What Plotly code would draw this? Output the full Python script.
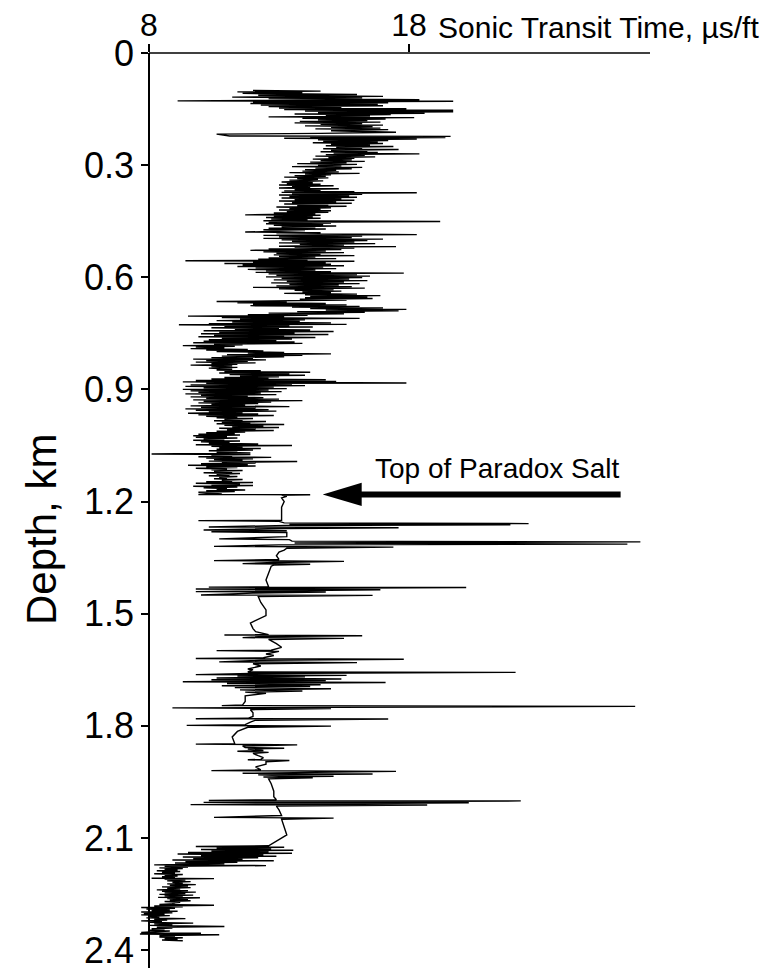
import plotly.graph_objects as go

# ---------------- data (depth in km, sonic transit time in us/ft) ----------------
depth_a = [0.100, 0.102, 0.104, 0.106, 0.108, 0.111, 0.113, 0.116, 0.118, 0.120, 0.122, 0.125, 0.128, 0.129,
           0.131, 0.133, 0.135, 0.137, 0.139, 0.141, 0.143, 0.145, 0.147, 0.149, 0.151, 0.153, 0.155, 0.157,
           0.159, 0.161, 0.163, 0.165, 0.167, 0.169, 0.171, 0.173, 0.175, 0.177, 0.179, 0.181, 0.183, 0.185,
           0.187, 0.189, 0.191, 0.193, 0.195, 0.197, 0.199, 0.201, 0.203, 0.205, 0.208, 0.212, 0.215, 0.217,
           0.222, 0.223, 0.225, 0.226, 0.228, 0.230]
dtt_a = [12.0, 14.6, 11.4, 13.9, 11.6, 16.0, 12.2, 17.0, 11.2, 16.2, 12.6, 18.4, 9.1, 19.7,
         12.0, 17.2, 11.9, 16.8, 12.3, 17.0, 12.6, 15.4, 13.0, 17.9, 13.2, 19.7, 14.0, 19.7,
         14.5, 18.6, 13.6, 17.3, 14.8, 16.5, 12.6, 18.2, 13.9, 17.1, 14.5, 16.4, 13.8, 16.9,
         13.6, 16.2, 14.6, 17.0, 14.0, 16.6, 15.0, 16.9, 14.4, 17.2, 15.0, 17.5, 14.6, 10.6,
         11.1, 19.6, 14.2, 19.4, 13.2, 18.3]

depth_b = [0.232, 0.234, 0.236, 0.238, 0.240, 0.242, 0.244, 0.246, 0.248, 0.250, 0.252, 0.254, 0.256, 0.258,
           0.260, 0.262, 0.264, 0.266, 0.268, 0.270, 0.272, 0.274, 0.276, 0.278, 0.280, 0.282, 0.284, 0.286,
           0.288, 0.290, 0.292, 0.294, 0.296, 0.298, 0.300, 0.302, 0.304, 0.306, 0.308, 0.310, 0.312, 0.314,
           0.316, 0.318, 0.320, 0.322, 0.324, 0.326, 0.328, 0.330, 0.332, 0.334, 0.336, 0.338, 0.340, 0.342,
           0.345, 0.347, 0.349, 0.351, 0.353, 0.355, 0.357, 0.359, 0.361, 0.363, 0.365, 0.367, 0.369, 0.371,
           0.373, 0.374, 0.376, 0.378, 0.380, 0.382, 0.384, 0.386, 0.388, 0.390, 0.392, 0.394, 0.396, 0.398,
           0.400, 0.402, 0.404, 0.406, 0.408, 0.410, 0.412, 0.414, 0.416, 0.418, 0.420]
dtt_b = [14.5, 17.2, 14.7, 16.8, 14.3, 17.0, 15.0, 16.5, 14.8, 17.4, 15.2, 16.2, 14.7, 17.6,
         15.0, 16.4, 14.6, 16.8, 15.1, 18.4, 14.8, 16.3, 14.4, 16.7, 14.9, 15.9, 14.3, 15.8,
         14.6, 16.3, 14.2, 15.6, 13.7, 16.0, 14.5, 15.4, 13.5, 16.2, 14.4, 15.8, 14.0, 15.2,
         13.9, 15.3, 13.4, 16.1, 14.0, 15.0, 13.6, 14.8, 13.2, 14.9, 13.7, 14.5, 13.4, 14.7,
         13.1, 14.3, 13.3, 14.6, 13.0, 15.1, 13.5, 14.2, 13.0, 15.3, 13.6, 14.6, 13.2, 15.9,
         13.1, 18.3, 13.5, 16.2, 13.0, 15.7, 13.4, 16.0, 13.1, 15.4, 13.6, 15.9, 13.0, 15.2,
         13.5, 15.8, 13.2, 14.9, 13.7, 15.6, 12.9, 15.0, 13.4, 14.6, 13.0]

depth_c = [0.422, 0.424, 0.426, 0.428, 0.430, 0.433, 0.434, 0.436, 0.438, 0.440, 0.442, 0.444, 0.446, 0.449,
           0.451, 0.453, 0.455, 0.457, 0.459, 0.461, 0.463, 0.465, 0.467, 0.469, 0.471, 0.473, 0.475, 0.477,
           0.479, 0.481, 0.483, 0.486, 0.488, 0.490, 0.492, 0.494, 0.496, 0.498, 0.500, 0.502, 0.504, 0.506,
           0.508, 0.510, 0.512, 0.514, 0.517, 0.518, 0.520, 0.522, 0.524, 0.526, 0.528, 0.530, 0.532, 0.534,
           0.536, 0.538, 0.540, 0.542, 0.544, 0.546, 0.548, 0.550, 0.552, 0.554, 0.556, 0.557, 0.559, 0.561,
           0.563, 0.565, 0.567, 0.569, 0.571, 0.573, 0.575, 0.577, 0.579, 0.581, 0.583, 0.585, 0.587, 0.589,
           0.591, 0.593, 0.595, 0.597, 0.599, 0.601, 0.603, 0.605, 0.607, 0.609, 0.611, 0.613, 0.615, 0.617,
           0.619, 0.621, 0.623, 0.625, 0.627, 0.629, 0.631, 0.633, 0.635, 0.637, 0.639, 0.641, 0.643, 0.645,
           0.647, 0.649, 0.651, 0.653, 0.655, 0.657, 0.659, 0.661, 0.663, 0.665, 0.666, 0.668, 0.670, 0.672,
           0.674, 0.676, 0.678, 0.680, 0.682, 0.684, 0.686, 0.688, 0.690, 0.692, 0.694, 0.696, 0.698, 0.700]
dtt_c = [15.0, 13.3, 14.9, 12.8, 14.4, 11.7, 14.6, 12.8, 14.3, 12.5, 14.6, 12.7, 14.1, 12.4,
         19.2, 12.6, 15.0, 12.5, 14.7, 12.8, 15.2, 13.1, 14.4, 12.6, 14.8, 12.4, 14.0, 13.0,
         11.7, 14.6, 12.9, 18.3, 12.4, 16.2, 13.0, 15.8, 12.4, 17.0, 13.1, 16.4, 13.5, 15.9,
         13.0, 16.7, 13.8, 15.5, 13.0, 17.5, 13.6, 15.9, 12.6, 15.4, 11.9, 14.8, 12.4, 15.5,
         12.9, 14.6, 12.8, 15.9, 13.0, 14.4, 12.6, 15.2, 12.2, 14.1, 9.4, 15.9, 12.0, 14.8,
         10.9, 15.0, 11.6, 15.5, 11.4, 14.7, 12.1, 15.2, 11.8, 14.4, 12.5, 15.0, 12.1, 17.8,
         12.6, 16.0, 12.9, 16.5, 12.5, 16.2, 13.1, 15.7, 12.8, 16.4, 13.3, 15.5, 12.7, 16.1,
         13.4, 15.3, 12.9, 15.8, 12.0, 16.3, 13.0, 15.1, 13.6, 15.4, 13.9, 15.0, 13.2, 16.0,
         14.0, 16.9, 14.2, 16.4, 14.0, 16.6, 13.8, 15.6, 12.5, 10.6, 13.3, 11.4, 14.8, 12.0,
         15.6, 11.9, 16.1, 13.5, 17.0, 14.2, 17.9, 14.8, 17.6, 13.7, 16.3, 12.6, 15.5, 11.8]

depth_d = [0.702, 0.704, 0.706, 0.708, 0.710, 0.712, 0.714, 0.716, 0.718, 0.720, 0.722, 0.724, 0.726, 0.727,
           0.729, 0.731, 0.733, 0.735, 0.737, 0.739, 0.741, 0.743, 0.745, 0.747, 0.749, 0.751, 0.753, 0.755,
           0.757, 0.759, 0.761, 0.763, 0.765, 0.767, 0.769, 0.771, 0.773, 0.775, 0.777, 0.779, 0.781, 0.783,
           0.785, 0.787, 0.789, 0.791, 0.793, 0.795, 0.797, 0.799, 0.801, 0.803, 0.805, 0.807, 0.809, 0.811,
           0.813, 0.815, 0.817, 0.819, 0.821, 0.823, 0.825, 0.827, 0.829, 0.831, 0.833, 0.835, 0.837, 0.839,
           0.841, 0.843, 0.846, 0.848, 0.850, 0.852, 0.854, 0.856, 0.858, 0.860, 0.862, 0.864, 0.866, 0.868,
           0.870, 0.872, 0.874, 0.876, 0.879, 0.880, 0.883, 0.884, 0.886, 0.888, 0.890, 0.892, 0.894, 0.896,
           0.898, 0.900]
dtt_d = [14.1, 9.5, 13.2, 10.8, 16.1, 11.5, 14.0, 10.6, 13.8, 11.2, 15.0, 10.3, 15.6, 9.15,
         13.4, 10.9, 14.3, 10.4, 13.0, 11.3, 14.2, 10.1, 15.1, 10.7, 13.6, 10.0, 14.9, 10.5,
         13.2, 9.9, 14.4, 10.8, 13.5, 10.3, 12.9, 10.1, 13.6, 9.7, 13.9, 10.5, 11.6, 9.3,
         11.3, 9.8, 10.9, 9.6, 11.8, 10.2, 12.4, 10.6, 13.2, 11.8, 15.0, 11.0, 13.9, 10.8,
         13.2, 10.4, 12.0, 9.7, 12.5, 10.2, 11.8, 9.8, 12.1, 10.4, 11.4, 9.6, 11.2, 10.4,
         11.4, 10.3, 11.2, 10.6, 12.3, 10.9, 14.2, 10.7, 13.4, 11.1, 14.0, 11.5, 13.0, 10.9,
         12.6, 10.4, 14.8, 9.8, 15.2, 9.3, 17.9, 10.2, 13.5, 9.6, 14.0, 9.4, 12.8, 10.1,
         13.3, 9.3]

depth_e = [0.902, 0.904, 0.906, 0.908, 0.910, 0.912, 0.914, 0.916, 0.918, 0.920, 0.922, 0.924, 0.926, 0.928,
           0.930, 0.932, 0.934, 0.936, 0.938, 0.940, 0.942, 0.944, 0.946, 0.948, 0.950, 0.952, 0.954, 0.956,
           0.958, 0.960, 0.962, 0.964, 0.966, 0.968, 0.970, 0.972, 0.974, 0.976, 0.978, 0.980, 0.982, 0.984,
           0.986, 0.988, 0.990, 0.992, 0.994, 0.996, 0.998, 1.000, 1.002, 1.004, 1.006, 1.008, 1.010, 1.012,
           1.014, 1.016, 1.018, 1.020, 1.022, 1.024, 1.026, 1.028, 1.030, 1.032, 1.034, 1.036, 1.038, 1.040,
           1.042, 1.044, 1.046, 1.048, 1.050, 1.052, 1.054, 1.056, 1.058, 1.060, 1.062, 1.064, 1.066, 1.068,
           1.070, 1.073, 1.074, 1.076, 1.078, 1.080, 1.082, 1.084, 1.086, 1.088, 1.090, 1.092, 1.093, 1.095,
           1.097, 1.099, 1.101, 1.103, 1.105, 1.107, 1.109, 1.111, 1.113, 1.115, 1.117, 1.119, 1.121, 1.123,
           1.125, 1.127, 1.129, 1.131, 1.133, 1.135, 1.137, 1.139, 1.141, 1.143, 1.145, 1.147, 1.149, 1.151,
           1.153, 1.155, 1.157, 1.159, 1.161, 1.163, 1.165, 1.167, 1.169, 1.171, 1.173, 1.175, 1.177, 1.179,
           1.181, 1.182]
dtt_e = [12.6, 9.6, 13.1, 9.9, 12.3, 9.4, 12.9, 10.0, 11.8, 9.6, 12.4, 10.2, 13.0, 9.7,
         13.9, 10.1, 12.7, 9.9, 12.2, 10.4, 11.7, 9.6, 13.4, 10.0, 12.1, 9.4, 12.6, 9.8,
         12.9, 10.3, 11.6, 9.5, 12.2, 9.9, 12.8, 10.2, 11.4, 10.6, 12.0, 10.9, 11.6, 10.5,
         12.5, 10.8, 11.9, 10.6, 13.2, 10.9, 12.4, 11.2, 13.0, 10.7, 12.1, 11.0, 12.8, 10.6,
         11.7, 10.2, 11.3, 9.9, 11.5, 9.7, 11.0, 9.8, 11.4, 10.1, 10.9, 9.7, 11.5, 10.0,
         11.1, 10.3, 12.2, 9.8, 13.5, 10.4, 11.6, 10.7, 12.3, 10.6, 12.0, 10.3, 11.4, 10.6,
         11.9, 8.1, 11.9, 10.4, 11.2, 9.9, 12.7, 10.2, 12.0, 10.5, 11.6, 10.3, 13.7, 10.8,
         12.1, 10.0, 11.8, 9.5, 12.1, 10.2, 11.4, 9.8, 11.0, 10.4, 11.6, 10.5, 11.2, 10.1,
         11.5, 10.6, 11.1, 10.3, 11.4, 10.7, 11.0, 10.5, 11.6, 10.8, 11.2, 10.2, 12.0, 9.8,
         11.5, 10.4, 12.0, 9.7, 11.4, 10.1, 11.0, 10.6, 11.7, 10.2, 11.3, 9.9, 10.8, 10.3,
         9.9, 14.2]

depth_salt = [1.183, 1.186, 1.190, 1.200, 1.215, 1.235, 1.250, 1.251, 1.253, 1.257, 1.259, 1.261, 1.262, 1.264,
              1.268, 1.270, 1.272, 1.276, 1.278, 1.281, 1.283, 1.292, 1.294, 1.300, 1.302, 1.306, 1.308, 1.311,
              1.314, 1.316, 1.320, 1.322, 1.325, 1.330, 1.335, 1.345, 1.355, 1.358, 1.360, 1.363, 1.366, 1.368,
              1.370, 1.373, 1.390, 1.410, 1.428, 1.429, 1.430, 1.432, 1.434, 1.436, 1.438, 1.441, 1.442, 1.445,
              1.450, 1.451, 1.454, 1.470, 1.490, 1.505, 1.525, 1.540, 1.548, 1.556, 1.557, 1.559, 1.561, 1.564,
              1.566, 1.569, 1.580, 1.590, 1.598, 1.599, 1.601, 1.608, 1.612, 1.618, 1.620, 1.622, 1.625, 1.629,
              1.631, 1.634, 1.640, 1.648, 1.650, 1.656, 1.657, 1.660, 1.663, 1.665, 1.667, 1.669, 1.672, 1.675,
              1.677, 1.679, 1.682, 1.684, 1.687, 1.690, 1.693, 1.695, 1.698, 1.701, 1.704, 1.707, 1.710, 1.713,
              1.720, 1.735, 1.744, 1.746, 1.748, 1.750, 1.752, 1.754, 1.757, 1.765, 1.775, 1.780, 1.781, 1.782,
              1.785, 1.790, 1.797, 1.799, 1.801, 1.804, 1.815, 1.830, 1.848, 1.849, 1.851, 1.854, 1.858, 1.860,
              1.862, 1.866, 1.868, 1.871, 1.874, 1.880, 1.885, 1.890, 1.891, 1.893, 1.896, 1.903, 1.910, 1.918,
              1.920, 1.922, 1.925, 1.927, 1.929, 1.931, 1.933, 1.935, 1.937, 1.939, 1.942, 1.955, 1.975, 1.990,
              1.998, 2.000, 2.001, 2.003, 2.005, 2.006, 2.009, 2.011, 2.012, 2.015, 2.025, 2.040, 2.045, 2.047,
              2.050, 2.070, 2.092, 2.121]
dtt_salt = [13.1, 13.3, 13.1, 13.2, 13.1, 13.1, 13.1, 9.9, 13.0, 13.2, 22.6, 13.4, 21.9, 13.3,
            10.3, 17.6, 13.2, 10.1, 13.3, 10.4, 13.3, 13.3, 13.3, 10.7, 13.4, 13.5, 26.9, 13.6,
            26.4, 13.0, 10.5, 17.4, 13.3, 13.2, 13.0, 12.9, 13.0, 10.5, 15.5, 12.8, 11.6, 14.2,
            12.8, 12.7, 12.6, 12.5, 12.6, 10.3, 20.2, 12.6, 9.8, 16.9, 12.3, 9.8, 14.8, 12.0,
            10.0, 16.6, 12.2, 12.3, 12.5, 12.5, 11.9, 12.0, 12.1, 12.6, 10.9, 16.2, 12.4, 11.6,
            15.5, 12.6, 12.9, 13.1, 12.7, 10.6, 13.0, 12.5, 12.8, 12.4, 9.8, 17.8, 12.3, 10.7,
            16.0, 12.0, 12.3, 11.8, 12.0, 11.8, 22.1, 11.9, 9.8, 15.6, 11.4, 14.0, 10.6, 15.4,
            10.4, 14.8, 9.3, 17.1, 11.0, 14.6, 10.8, 14.2, 11.3, 15.0, 11.5, 13.9, 11.7, 12.5,
            11.7, 11.7, 11.6, 10.8, 26.7, 11.9, 8.9, 15.0, 11.9, 12.0, 12.0, 11.8, 9.8, 17.2,
            12.1, 11.9, 11.7, 9.45, 15.0, 11.8, 11.4, 11.2, 11.3, 9.8, 13.7, 11.6, 11.7, 13.2,
            11.8, 12.4, 11.4, 12.6, 12.0, 12.2, 12.4, 12.3, 11.8, 13.4, 12.5, 12.5, 12.1, 12.3,
            10.4, 17.5, 12.5, 11.6, 16.6, 12.2, 13.0, 15.1, 12.4, 14.3, 12.6, 12.7, 12.8, 12.8,
            12.9, 10.3, 22.3, 12.9, 10.1, 20.3, 12.8, 9.6, 18.7, 12.9, 13.0, 13.1, 10.5, 15.1,
            13.1, 13.2, 13.3, 12.6]

depth_f = [2.123, 2.125, 2.127, 2.129, 2.131, 2.133, 2.135, 2.137, 2.139, 2.141, 2.143, 2.145, 2.147, 2.149,
           2.151, 2.153, 2.155, 2.157, 2.159, 2.161, 2.163, 2.165, 2.167, 2.169, 2.172, 2.174, 2.176, 2.178,
           2.180, 2.182, 2.184, 2.186, 2.188, 2.190, 2.192, 2.194, 2.196, 2.198, 2.200, 2.202, 2.204, 2.206,
           2.208, 2.209, 2.211, 2.213, 2.215, 2.217, 2.219, 2.221, 2.223, 2.225, 2.227, 2.229, 2.231, 2.233,
           2.235, 2.237, 2.239, 2.241, 2.243, 2.245, 2.247, 2.249, 2.251, 2.253, 2.255, 2.257, 2.259, 2.260,
           2.262, 2.264, 2.266, 2.268, 2.270, 2.272, 2.274, 2.276, 2.278, 2.280, 2.282, 2.284, 2.286, 2.288,
           2.290, 2.292, 2.294, 2.296, 2.298, 2.300, 2.302, 2.304, 2.306, 2.308, 2.310, 2.312, 2.314, 2.316,
           2.318, 2.320, 2.322, 2.324, 2.326, 2.328, 2.330, 2.332, 2.334, 2.337, 2.339, 2.341, 2.343, 2.345,
           2.347, 2.349, 2.351, 2.353, 2.355, 2.357, 2.359, 2.361, 2.363, 2.365, 2.367, 2.369, 2.371, 2.373,
           2.375]
dtt_f = [9.8, 13.2, 10.6, 12.7, 10.0, 13.55, 10.4, 12.6, 9.5, 13.5, 9.1, 12.4, 10.0, 12.9,
         9.3, 12.2, 9.7, 11.6, 8.9, 12.8, 9.4, 11.4, 9.0, 10.9, 8.2, 12.5, 8.6, 9.5,
         8.4, 9.3, 8.6, 9.1, 8.3, 9.2, 8.5, 9.0, 8.2, 9.3, 8.6, 9.1, 8.5, 9.0,
         8.1, 10.5, 8.6, 9.4, 8.7, 9.6, 8.9, 9.3, 8.7, 9.8, 8.8, 9.5, 8.5, 9.6,
         8.7, 9.2, 8.3, 9.5, 8.5, 9.8, 8.6, 9.4, 8.4, 9.7, 8.6, 9.3, 8.35, 9.96,
         8.7, 9.5, 8.8, 9.6, 8.6, 9.2, 8.9, 9.0, 8.4, 10.5, 8.2, 9.3, 7.7, 9.0,
         7.9, 8.8, 8.1, 9.1, 7.7, 8.9, 7.8, 8.6, 7.7, 8.8, 8.0, 8.4, 7.9, 9.4,
         8.2, 8.7, 7.7, 8.5, 8.0, 9.7, 8.2, 8.9, 8.0, 10.9, 8.3, 8.9, 8.1, 8.6,
         8.0, 8.8, 8.3, 7.7, 10.0, 7.65, 10.7, 8.4, 9.0, 8.4, 9.3, 8.6, 9.1, 8.5,
         9.3]

depth_ticks = [0, 0.3, 0.6, 0.9, 1.2, 1.5, 1.8, 2.1, 2.4]
depth_tick_labels = ["0", "0.3", "0.6", "0.9", "1.2", "1.5", "1.8", "2.1", "2.4"]
dtt_ticks = [8, 18]
dtt_tick_labels = ["8", "18"]

salt_top_depth = 1.181
arrow_tip_dtt = 14.68
arrow_tail_dtt = 26.14

depth = depth_a + depth_b + depth_c + depth_d + depth_e + depth_salt + depth_f
dtt = dtt_a + dtt_b + dtt_c + dtt_d + dtt_e + dtt_salt + dtt_f

# ---------------- figure ----------------
# The page body has an 8 px default margin, so the figure is 8 px smaller
# and every page-pixel position below is shifted by OFF.
OFF = 8
W, H = 777 - OFF, 976 - OFF
ML, MR, MT, MB = 136 - OFF, 127, 53 - OFF, 8
X_MIN, X_MAX = 7.5, 27.27
Y_MAX = 2.448
FONT = "Arial, 'Liberation Sans', Helvetica, sans-serif"

fig = go.Figure()
fig.add_trace(go.Scatter(x=dtt, y=depth, mode="lines",
                         line=dict(color="black", width=1.4),
                         hoverinfo="skip", showlegend=False))

plot_w = W - ML - MR
plot_h = H - MT - MB
y_axis_pos = (149 - OFF - ML) / plot_w


def px_x(px):
    """page pixel x -> paper coordinate"""
    return (px - OFF - ML) / plot_w


def px_y(py):
    """page pixel y -> paper coordinate"""
    return (H - MB - (py - OFF)) / plot_h


fig.update_layout(
    width=W, height=H,
    margin=dict(l=ML, r=MR, t=MT, b=MB, pad=0, autoexpand=False),
    paper_bgcolor="white", plot_bgcolor="white",
    font=dict(family=FONT, color="black"),
    xaxis=dict(range=[X_MIN, X_MAX], side="top", showline=False, showgrid=False, zeroline=False,
               automargin=False,
               tickvals=dtt_ticks, ticktext=dtt_tick_labels, ticks="outside", ticklen=8,
               tickwidth=1.5, tickcolor="black", tickfont=dict(size=32, family=FONT),
               ticklabelstandoff=-5),
    yaxis=dict(range=[Y_MAX, 0], anchor="free", position=y_axis_pos, side="left",
               automargin=False,
               showline=True, linewidth=1.5, linecolor="black", showgrid=False, zeroline=False,
               tickvals=depth_ticks, ticktext=depth_tick_labels, ticks="outside", ticklen=7,
               tickwidth=1.5, tickcolor="black", tickfont=dict(size=36, family=FONT)),
)

# top axis line (from 8 to the end of the scale)
fig.add_shape(type="line", xref="x", yref="paper", x0=8, x1=X_MAX, y0=1, y1=1,
              line=dict(color="black", width=1.5))

# left frame line of the panel
fig.add_shape(type="line", xref="paper", yref="paper",
              x0=px_x(5), x1=px_x(5), y0=px_y(940), y1=px_y(45),
              line=dict(color="#444444", width=1))

# x-axis title
fig.add_annotation(text="Sonic Transit Time, \u00b5s/ft", xref="paper", yref="paper",
                   x=px_x(436), y=px_y(27),
                   xanchor="left", yanchor="middle", showarrow=False,
                   font=dict(size=30, family=FONT, color="black"))

# y-axis title
fig.add_annotation(text="Depth, km", xref="paper", yref="paper",
                   x=px_x(41), y=px_y(530),
                   xanchor="center", yanchor="middle", textangle=-90, showarrow=False,
                   font=dict(size=42, family=FONT, color="black"))

# "Top of Paradox Salt" arrow
head_len = 1.5
head_half = 0.031
fig.add_shape(type="line", xref="x", yref="y", x0=arrow_tip_dtt + head_len - 0.1, x1=arrow_tail_dtt,
              y0=salt_top_depth, y1=salt_top_depth, line=dict(color="black", width=6))
fig.add_shape(type="path", xref="x", yref="y",
              path=f"M {arrow_tip_dtt},{salt_top_depth} L {arrow_tip_dtt + head_len},{salt_top_depth - head_half} "
                   f"L {arrow_tip_dtt + head_len},{salt_top_depth + head_half} Z",
              fillcolor="black", line=dict(color="black", width=0))
fig.add_annotation(text="Top of Paradox Salt", xref="x", yref="y",
                   x=21.42, y=salt_top_depth - 0.07, xanchor="center", yanchor="middle",
                   showarrow=False, font=dict(size=28, family=FONT, color="black"))

fig.write_html("out.html")
